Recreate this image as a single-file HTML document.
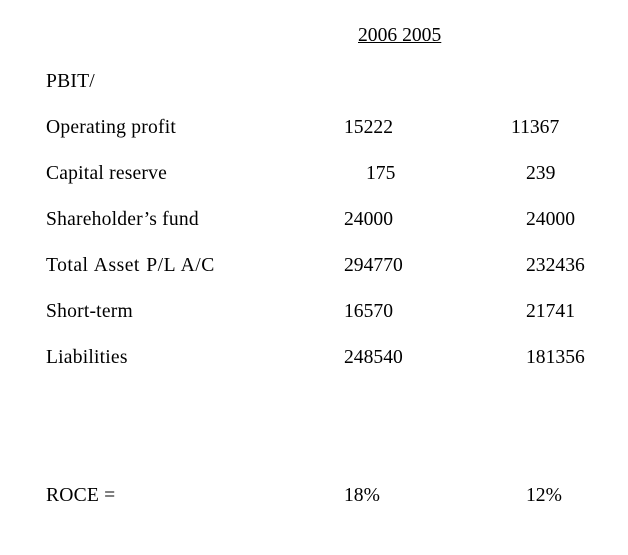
<!DOCTYPE html>
<html><head><meta charset="utf-8"><style>
body{margin:0;background:#fff;width:628px;height:555px;position:relative;overflow:hidden;font-family:"Liberation Serif",serif;font-size:19.6px;color:#000}
div{position:absolute;line-height:20px;white-space:nowrap}
.l{letter-spacing:0.2px}
</style></head><body>
<div style="left:358px;top:26px;text-decoration:underline">2006 2005</div>
<div class="l" style="left:46px;top:72px">PBIT/</div>
<div class="l" style="left:46px;top:118px">Operating profit</div><div style="left:344px;top:118px">15222</div><div style="left:511px;top:118px">11367</div>
<div class="l" style="left:46px;top:164px">Capital reserve</div><div style="left:366px;top:164px">175</div><div style="left:526px;top:164px">239</div>
<div class="l" style="left:46px;top:210px">Shareholder’s fund</div><div style="left:344px;top:210px">24000</div><div style="left:526px;top:210px">24000</div>
<div class="l" style="left:46px;top:256px;word-spacing:1px;letter-spacing:0.5px">Total Asset P/L A/C</div><div style="left:344px;top:256px">294770</div><div style="left:526px;top:256px">232436</div>
<div class="l" style="left:46px;top:302px">Short-term</div><div style="left:344px;top:302px">16570</div><div style="left:526px;top:302px">21741</div>
<div class="l" style="left:46px;top:348px">Liabilities</div><div style="left:344px;top:348px">248540</div><div style="left:526px;top:348px">181356</div>
<div class="l" style="left:46px;top:486px">ROCE =</div><div style="left:344px;top:486px">18%</div><div style="left:526px;top:486px">12%</div>
</body></html>
